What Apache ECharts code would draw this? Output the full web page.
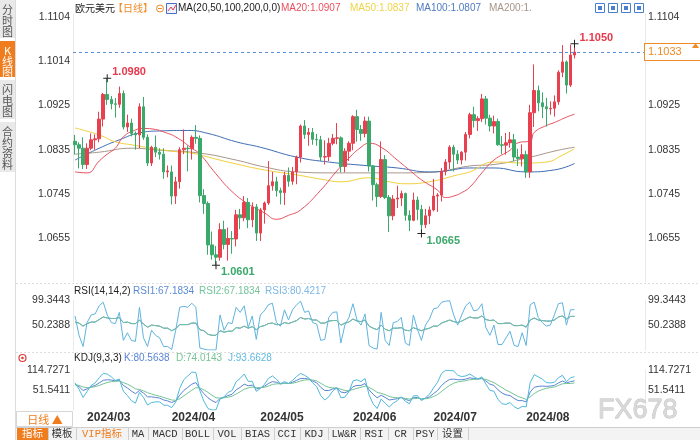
<!DOCTYPE html>
<html><head><meta charset="utf-8">
<script src="https://cdn.jsdelivr.net/npm/echarts@6/dist/echarts.min.js"></script>
<style>html,body{margin:0;padding:0;background:#fff;}#c{width:700px;height:440px;}</style>
</head><body><div id="c"></div>
<script>
// ---------------- data ----------------
const dates = [
'2024/02/27','2024/02/28','2024/02/29',
'2024/03/01','2024/03/04','2024/03/05','2024/03/06','2024/03/07','2024/03/08','2024/03/11','2024/03/12','2024/03/13','2024/03/14','2024/03/15','2024/03/18','2024/03/19','2024/03/20','2024/03/21','2024/03/22','2024/03/25','2024/03/26','2024/03/27','2024/03/28','2024/03/29',
'2024/04/01','2024/04/02','2024/04/03','2024/04/04','2024/04/05','2024/04/08','2024/04/09','2024/04/10','2024/04/11','2024/04/12','2024/04/15','2024/04/16','2024/04/17','2024/04/18','2024/04/19','2024/04/22','2024/04/23','2024/04/24','2024/04/25','2024/04/26','2024/04/29','2024/04/30',
'2024/05/01','2024/05/02','2024/05/03','2024/05/06','2024/05/07','2024/05/08','2024/05/09','2024/05/10','2024/05/13','2024/05/14','2024/05/15','2024/05/16','2024/05/17','2024/05/20','2024/05/21','2024/05/22','2024/05/23','2024/05/24','2024/05/27','2024/05/28','2024/05/29','2024/05/30','2024/05/31',
'2024/06/03','2024/06/04','2024/06/05','2024/06/06','2024/06/07','2024/06/10','2024/06/11','2024/06/12','2024/06/13','2024/06/14','2024/06/17','2024/06/18','2024/06/19','2024/06/20','2024/06/21','2024/06/24','2024/06/25','2024/06/26','2024/06/27','2024/06/28',
'2024/07/01','2024/07/02','2024/07/03','2024/07/04','2024/07/05','2024/07/08','2024/07/09','2024/07/10','2024/07/11','2024/07/12','2024/07/15','2024/07/16','2024/07/17','2024/07/18','2024/07/19','2024/07/22','2024/07/23','2024/07/24','2024/07/25','2024/07/26','2024/07/29','2024/07/30','2024/07/31',
'2024/08/01','2024/08/02','2024/08/05','2024/08/06','2024/08/07','2024/08/08','2024/08/09','2024/08/12','2024/08/13','2024/08/14','2024/08/15','2024/08/16','2024/08/19'];

const opens = [
1.0852,1.0845,1.0838,1.0805,1.0838,1.0855,1.0857,1.0897,1.0947,1.0937,
1.0928,1.0927,1.0949,1.0881,1.0889,1.0868,1.0865,1.0922,1.0860,1.0808,
1.0840,1.0830,1.0826,1.0790,1.0790,1.0741,1.0770,1.0835,1.0838,1.0837,
1.0860,1.0858,1.0742,1.0726,1.0642,1.0622,1.0617,1.0673,1.0643,1.0655,
1.0654,1.0703,1.0697,1.0728,1.0693,1.0719,1.0666,1.0713,1.0727,1.0762,
1.0770,1.0752,1.0748,1.0783,1.0771,1.0790,1.0820,1.0883,1.0866,1.0870,
1.0856,1.0855,1.0820,1.0821,1.0848,1.0858,1.0859,1.0801,1.0832,1.0848,
1.0902,1.0876,1.0868,1.0893,1.0802,1.0764,1.0740,1.0815,1.0738,1.0701,
1.0735,1.0737,1.0746,1.0702,1.0692,1.0733,1.0714,1.0683,1.0701,1.0713,
1.0741,1.0743,1.0791,1.0810,1.0840,1.0826,1.0814,1.0830,1.0866,1.0906,
1.0894,1.0898,1.0938,1.0899,1.0883,1.0892,1.0845,1.0844,1.0849,1.0855,
1.0820,1.0817,1.0825,1.0790,1.0910,1.0955,1.0930,1.0922,1.0918,1.0919,
1.0932,1.0992,1.1013,1.0966,1.1027];
const closes = [
1.0845,1.0838,1.0805,1.0838,1.0855,1.0857,1.0897,1.0947,1.0937,1.0928,
1.0927,1.0949,1.0881,1.0889,1.0868,1.0865,1.0922,1.0860,1.0808,1.0840,
1.0830,1.0826,1.0790,1.0792,1.0741,1.0770,1.0835,1.0838,1.0837,1.0860,
1.0858,1.0742,1.0726,1.0642,1.0622,1.0617,1.0673,1.0643,1.0655,1.0654,
1.0703,1.0697,1.0728,1.0693,1.0719,1.0666,1.0713,1.0727,1.0762,1.0770,
1.0752,1.0748,1.0783,1.0771,1.0790,1.0820,1.0883,1.0866,1.0870,1.0856,
1.0855,1.0820,1.0821,1.0848,1.0858,1.0859,1.0801,1.0832,1.0848,1.0902,
1.0876,1.0868,1.0893,1.0802,1.0764,1.0740,1.0815,1.0738,1.0701,1.0735,
1.0737,1.0746,1.0702,1.0692,1.0733,1.0714,1.0683,1.0701,1.0713,1.0741,
1.0743,1.0791,1.0810,1.0840,1.0826,1.0814,1.0830,1.0866,1.0906,1.0894,
1.0898,1.0938,1.0899,1.0883,1.0892,1.0845,1.0844,1.0849,1.0855,1.0820,
1.0817,1.0825,1.0790,1.0910,1.0955,1.0930,1.0922,1.0918,1.0919,1.0932,
1.0992,1.1013,1.0966,1.1027,1.1033];
const lows = [
1.0825,1.0797,1.0796,1.0796,1.0834,1.0835,1.0850,1.0882,1.0926,1.0917,
1.0900,1.0920,1.0876,1.0871,1.0862,1.0835,1.0838,1.0855,1.0802,1.0802,
1.0820,1.0815,1.0776,1.0779,1.0724,1.0725,1.0756,1.0826,1.0791,1.0815,
1.0847,1.0728,1.0705,1.0622,1.0612,1.0601,1.0610,1.0633,1.0610,1.0624,
1.0639,1.0674,1.0690,1.0676,1.0678,1.0650,1.0650,1.0685,1.0723,1.0752,
1.0740,1.0724,1.0723,1.0760,1.0764,1.0765,1.0809,1.0857,1.0843,1.0845,
1.0843,1.0812,1.0805,1.0812,1.0844,1.0846,1.0789,1.0789,1.0812,1.0834,
1.0851,1.0853,1.0860,1.0791,1.0732,1.0719,1.0737,1.0735,1.0668,1.0692,
1.0717,1.0721,1.0691,1.0670,1.0690,1.0692,1.0665,1.0676,1.0684,1.0710,
1.0709,1.0730,1.0783,1.0796,1.0791,1.0806,1.0805,1.0813,1.0858,1.0880,
1.0873,1.0891,1.0886,1.0872,1.0868,1.0843,1.0826,1.0825,1.0839,1.0812,
1.0802,1.0801,1.0778,1.0778,1.0881,1.0913,1.0899,1.0882,1.0906,1.0902,
1.0926,1.0982,1.0949,1.0962,1.1020];
const highs = [
1.0865,1.0850,1.0860,1.0848,1.0868,1.0866,1.0912,1.0950,1.0980,1.0944,
1.0940,1.0963,1.0955,1.0906,1.0898,1.0872,1.0929,1.0942,1.0866,1.0843,
1.0864,1.0838,1.0838,1.0803,1.0803,1.0780,1.0840,1.0876,1.0843,1.0864,
1.0885,1.0864,1.0755,1.0730,1.0669,1.0640,1.0686,1.0691,1.0677,1.0670,
1.0713,1.0715,1.0741,1.0737,1.0728,1.0725,1.0717,1.0730,1.0812,1.0790,
1.0780,1.0758,1.0790,1.0799,1.0800,1.0823,1.0886,1.0895,1.0879,1.0879,
1.0867,1.0863,1.0854,1.0859,1.0867,1.0889,1.0862,1.0838,1.0852,1.0905,
1.0916,1.0885,1.0902,1.0902,1.0804,1.0768,1.0852,1.0824,1.0743,1.0743,
1.0762,1.0752,1.0748,1.0712,1.0748,1.0740,1.0723,1.0715,1.0720,1.0776,
1.0747,1.0798,1.0816,1.0844,1.0845,1.0834,1.0832,1.0871,1.0910,1.0922,
1.0903,1.0948,1.0944,1.0906,1.0904,1.0898,1.0863,1.0869,1.0871,1.0867,
1.0837,1.0846,1.0833,1.0926,1.1008,1.0965,1.0951,1.0940,1.0933,1.0945,
1.0996,1.1047,1.1016,1.1048,1.1050];

// moving averages: [candle index, value]
const ma20 = [[0,1.0790],[3,1.0788],[6,1.0812],[8,1.0826],[10,1.0838],[12,1.0861],[15,1.0875],[17,1.0878],[20,1.0876],[22,1.0871],[25,1.0861],[29,1.0838],[31,1.0826],[35,1.0786],[39,1.0750],[43,1.0725],[47,1.0707],[50,1.0694],[53,1.0702],[56,1.0713],[61,1.0753],[65,1.0792],[68,1.0818],[71,1.0840],[73,1.0848],[76,1.0840],[80,1.0814],[83,1.0794],[86,1.0774],[90,1.0753],[92,1.0738],[94,1.0741],[96,1.0748],[98,1.0759],[101,1.0788],[104,1.0814],[108,1.0834],[110,1.0849],[113,1.0853],[114,1.0870],[117,1.0884],[119,1.0890],[122,1.0901],[124,1.0907]];
const ma50 = [[0,1.0879],[6,1.0865],[10,1.0851],[14,1.0845],[19,1.0838],[24,1.0832],[29,1.0828],[34,1.0818],[39,1.0808],[47,1.0794],[55,1.0784],[62,1.0774],[66,1.0770],[73,1.0778],[78,1.0770],[82,1.0766],[88,1.0770],[95,1.0784],[98,1.0790],[104,1.0810],[112,1.0808],[117,1.0810],[121,1.0824],[124,1.0837]];
const ma100 = [[0,1.0814],[6,1.0838],[11,1.0855],[16,1.0869],[21,1.0873],[28,1.0874],[33,1.0868],[40,1.0851],[46,1.0840],[55,1.0820],[63,1.0810],[72,1.0803],[80,1.0798],[88,1.0790],[92,1.0792],[98,1.0798],[104,1.0798],[112,1.0790],[119,1.0794],[124,1.0807]];
const ma200 = [[0,1.0826],[6,1.0830],[14,1.0838],[21,1.0834],[31,1.0828],[40,1.0814],[47,1.0800],[55,1.0790],[64,1.0788],[72,1.0788],[80,1.0788],[88,1.0789],[98,1.0802],[104,1.0805],[112,1.0818],[120,1.0834],[124,1.0840]];

// RSI(14) (RSI1 = RSI2) and RSI(2) (RSI3)
const rsi14 = [56,54,48,53,56,56,61,66,64,63,63,65,55,56,53,53,60,52,46,50,49,48,44,44,39,43,51,51,51,54,54,41,39,32,30,30,39,36,38,38,45,44,48,44,47,41,47,49,53,54,51,51,55,53,56,59,65,62,63,60,60,54,54,58,59,59,50,54,56,62,58,57,60,48,44,41,50,42,39,44,44,45,40,39,45,42,39,42,44,48,48,54,57,60,57,55,58,62,66,64,64,68,61,59,60,53,53,54,54,49,49,50,46,60,64,60,59,58,58,60,66,68,62,67,67.1834];
const rsi2 = [68,30,8,55,70,72,88,95,70,55,53,75,20,35,20,18,85,25,8,40,30,25,8,8,2,40,85,87,85,93,85,5,3,1.2,1.2,1.2,70,40,55,53,85,75,88,45,68,22,70,78,90,93,55,48,80,60,80,90,97,75,78,55,52,20,22,65,75,76,15,50,65,92,60,50,72,10,5,3,75,20,10,55,57,65,15,10,70,42,20,50,62,82,84,95,97,98,70,50,70,88,95,78,80,92,45,30,50,12,12,25,38,10,8,35,10,90,95,65,55,48,50,70,92,94,50,80,80.4217];

// KDJ(9,3,3)
const kLine = [70,62,50,55,62,66,74,82,84,83,80,82,66,58,48,40,50,42,30,30,28,26,20,17,12,17,35,50,60,70,75,55,40,27,18,12,25,28,34,38,52,60,70,65,67,55,58,63,72,78,76,71,74,72,76,82,88,88,86,80,74,60,50,50,55,58,45,43,48,62,66,66,72,52,38,27,35,28,20,22,24,28,22,18,27,28,22,25,30,40,50,66,77,85,86,84,84,86,90,88,86,89,80,70,66,52,42,36,34,25,18,18,14,45,60,63,64,63,64,66,74,80,74,78,80.5638];
const dLine = [68,66,61,59,60,62,66,71,75,78,79,80,75,70,63,55,53,49,43,39,35,32,28,24,20,19,24,33,42,51,59,58,52,44,35,27,26,27,29,32,39,46,54,58,61,59,59,60,64,69,71,71,72,72,73,76,80,83,84,83,80,73,65,60,58,58,54,50,49,53,57,60,64,60,53,44,41,37,31,28,27,27,25,23,24,25,24,24,26,31,37,47,57,66,73,77,79,81,84,85,86,87,85,80,75,67,59,51,45,38,31,27,22,30,40,48,53,57,59,61,66,71,72,72,74.0143];
const jLine = [74,54,28,47,66,74,90,104,102,93,82,86,48,34,18,10,44,28,4,12,14,14,4,3,-4,13,57,84,96,108,107,49,16,-7,-11.6,-11,23,30,44,50,78,88,102,79,79,47,56,69,88,96,86,71,78,72,82,94,104,98,90,74,62,34,20,30,49,58,27,29,46,80,84,78,88,36,8,-7,23,10,-2,10,18,30,16,8,33,34,18,27,38,58,76,104,114,113,112,98,94,96,102,94,86,93,70,50,48,22,8,6,12,-1,-8,0,-2,75,100,93,86,75,74,76,90,98,78,90,93.6628];

const priceTicks = [1.0655,1.0745,1.0835,1.0925,1.1014,1.1104];
const rsiTicks = [50.2388,99.3443];
const kdjTicks = [51.5411,114.7271];
const lastPrice = 1.1033;
const extremes = [{i:8,kind:'high'},{i:35,kind:'low'},{i:86,kind:'low'},{i:124,kind:'high'}];

// ---------------- chart ----------------
const F = "'Liberation Sans','Noto Sans CJK SC',sans-serif";
const CJK = "'Noto Sans CJK SC','Liberation Sans',sans-serif";
const SLOTS = 142;
const UP = '#e8404f', DOWN = '#3aa96a';
const C20 = '#e8505f', C50 = '#f0d03a', C100 = '#3f6db3', C200 = '#a8968a';
const CR1 = '#5b8bd6', CR2 = '#72c49a', CR3 = '#5fb3df';
const CK = '#5a84d6', CD = '#74c495', CJ = '#4fb8dc';

const chart = echarts.init(document.getElementById('c'), null, {renderer:'canvas', width:700, height:440});
const candles = dates.map((d,i)=>[opens[i],closes[i],lows[i],highs[i]]);
// right price labels hidden behind the last-price tag
const rightPriceTicks = priceTicks.filter(v => Math.abs(v - lastPrice) > 0.0025);

function xAx(gi, showLabel){
  return {type:'category', gridIndex:gi, data:dates, max:SLOTS-1, boundaryGap:true,
    axisLine:{show:false}, axisTick:{show:false}, splitLine:{show:false},
    axisLabel: showLabel ? {
      show:true, align:'left', margin:2, color:'#333', fontSize:12, fontWeight:'bold', fontFamily:F,
      interval:(idx,val)=> !!val && idx>0 && dates[idx-1] && dates[idx-1].slice(0,7)!==val.slice(0,7),
      formatter:(val)=> val ? val.slice(0,7) : ''
    } : {show:false}};
}
function yAx(gi, pos, min, max, ticks){
  return {type:'value', gridIndex:gi, position:pos, min:min, max:max, scale:true,
    axisLine:{show:true, lineStyle:{color:'#e9e9e9'}},
    axisTick:{show:false, customValues:ticks},
    splitLine:{show:false},
    axisLabel:{show:true, customValues:ticks, formatter:(v)=>v.toFixed(4), color:'#333', fontSize:10.5, fontFamily:F, margin:3}};
}
function line(name, data, color, xi, yi, smooth){
  return {name:name, type:'line', data:data, xAxisIndex:xi, yAxisIndex:yi, showSymbol:false, symbol:'none',
    smooth:smooth, lineStyle:{width:1, color:color}, itemStyle:{color:color}, silent:true, z:3};
}

const markPts = extremes.map(e=>{
  const v = e.kind==='high' ? highs[e.i] : lows[e.i];
  return {coord:[e.i, v], value:v,
    label:{show:true, position:'right', distance:1, offset:[0, e.kind==='high'?-6:7],
      color: e.kind==='high'? '#e8384c' : '#3aa86a', fontWeight:'bold', fontSize:11, fontFamily:F,
      formatter:(p)=>p.value.toFixed(4)}};
});

const g = [];
// sidebar tabs
const tabs = [{t:'分\n时\n图',y:0,h:38,on:false},{t:'K\n线\n图',y:41,h:36,on:true},{t:'闪\n电\n图',y:80,h:39,on:false},{t:'合\n约\n资\n料',y:122,h:50,on:false}];
tabs.forEach(tb=>{
  g.push({type:'rect', shape:{x:0,y:tb.y,width:15,height:tb.h}, style:{fill: tb.on?'#f07d1d':'#e9e9e9'}});
  g.push({type:'text', x:7.5, y:tb.y+4, style:{text:tb.t, fill: tb.on?'#fff':'#555', font:"11px "+CJK, textAlign:'center', textVerticalAlign:'top', lineHeight:11}});
});
g.push({type:'line', shape:{x1:15.5,y1:0,x2:15.5,y2:440}, style:{stroke:'#dcdcdc', lineWidth:1}});
// panel separators
g.push({type:'line', shape:{x1:16,y1:283.5,x2:700,y2:283.5}, style:{stroke:'#dedede', lineDash:[2,2], lineWidth:1}});
g.push({type:'line', shape:{x1:16,y1:352.5,x2:700,y2:352.5}, style:{stroke:'#dedede', lineDash:[2,2], lineWidth:1}});
// title row
const lastOf = a => a[a.length-1][1].toFixed(4);
g.push({type:'text', x:75, y:8, style:{text:'欧元美元', fill:'#222', font:"10px "+CJK, textVerticalAlign:'middle'}});
g.push({type:'text', x:113, y:8, style:{text:'【日线】', fill:'#f08a24', font:"10px "+CJK, textVerticalAlign:'middle'}});
g.push({type:'circle', shape:{cx:160,cy:8.5,r:3.5}, style:{fill:'#fff', stroke:'#f08a24', lineWidth:1}});
g.push({type:'line', shape:{x1:158,y1:8.5,x2:162,y2:8.5}, style:{stroke:'#f08a24', lineWidth:1}});
g.push({type:'rect', shape:{x:166.5,y:3.5,width:10,height:10}, style:{fill:'#eef2ff', stroke:'#4a6fc0', lineWidth:1}});
g.push({type:'polyline', shape:{points:[[168,11],[171,7],[173,10],[176,5]]}, style:{stroke:'#e04050', lineWidth:1, fill:null}});
g.push({type:'text', x:178, y:8, style:{text:'MA(20,50,100,200,0,0)', fill:'#222', font:"10px "+F, textVerticalAlign:'middle'}});
g.push({type:'text', x:281, y:8, style:{text:'MA20:'+lastOf(ma20), fill:C20, font:"10px "+F, textVerticalAlign:'middle'}});
g.push({type:'text', x:350, y:8, style:{text:'MA50:'+lastOf(ma50), fill:'#efd44a', font:"10px "+F, textVerticalAlign:'middle'}});
g.push({type:'text', x:416, y:8, style:{text:'MA100:'+lastOf(ma100), fill:'#4f7cc0', font:"10px "+F, textVerticalAlign:'middle'}});
g.push({type:'text', x:489, y:8, style:{text:'MA200:1.', fill:'#a89488', font:"10px "+F, textVerticalAlign:'middle'}});
[595,608,621,634].forEach((x,k)=>{
  g.push({type:'rect', shape:{x:x+0.5,y:3.5,width:9,height:9}, style:{fill:'#fff', stroke:'#4a7fd0', lineWidth:1}});
  g.push({type:'rect', shape:{x:x+3,y:6,width:4,height:4}, style:{fill:'#4a7fd0'}});
});
// price tag icon
g.push({type:'polygon', z:100, shape:{points:[[692,48],[695.5,43],[699,48]]}, style:{fill:'#f08a24'}});
// RSI title
g.push({type:'text', x:74, y:291, style:{text:'RSI(14,14,2)', fill:'#222', font:"10px "+F, textVerticalAlign:'middle'}});
g.push({type:'text', x:133, y:291, style:{text:'RSI1:'+rsi14[rsi14.length-1].toFixed(4), fill:CR1, font:"10px "+F, textVerticalAlign:'middle'}});
g.push({type:'text', x:199, y:291, style:{text:'RSI2:'+rsi14[rsi14.length-1].toFixed(4), fill:CR2, font:"10px "+F, textVerticalAlign:'middle'}});
g.push({type:'text', x:265, y:291, style:{text:'RSI3:'+rsi2[rsi2.length-1].toFixed(4), fill:'#7db7e6', font:"10px "+F, textVerticalAlign:'middle'}});
// KDJ title
g.push({type:'circle', shape:{cx:22.5,cy:358,r:3.5}, style:{fill:'#fff', stroke:'#e03a3a', lineWidth:1.2}});
g.push({type:'circle', shape:{cx:22.5,cy:358,r:1.3}, style:{fill:'#e03a3a'}});
g.push({type:'text', x:74, y:358, style:{text:'KDJ(9,3,3)', fill:'#222', font:"10px "+F, textVerticalAlign:'middle'}});
g.push({type:'text', x:124, y:358, style:{text:'K:'+kLine[kLine.length-1].toFixed(4), fill:CK, font:"10px "+F, textVerticalAlign:'middle'}});
g.push({type:'text', x:176, y:358, style:{text:'D:'+dLine[dLine.length-1].toFixed(4), fill:CD, font:"10px "+F, textVerticalAlign:'middle'}});
g.push({type:'text', x:228, y:358, style:{text:'J:'+jLine[jLine.length-1].toFixed(4), fill:'#5fb9e0', font:"10px "+F, textVerticalAlign:'middle'}});
// 日线 box
g.push({type:'rect', shape:{x:16.5,y:411.5,width:56,height:15}, style:{fill:'#fff', stroke:'#d6d6d6', lineWidth:1}});
g.push({type:'text', x:45, y:419.5, style:{text:'日线 ▲', fill:'#f07d1d', font:"11px "+CJK, textAlign:'center', textVerticalAlign:'middle'}});
// bottom toolbar
g.push({type:'rect', shape:{x:16,y:427,width:684,height:13}, style:{fill:'#f3f3f3'}});
g.push({type:'line', shape:{x1:16,y1:427.5,x2:700,y2:427.5}, style:{stroke:'#cfcfcf', lineWidth:1}});
const cells = [['指标',17,48],['模板',48,76],['VIP指标',76,128],['MA',128,148],['MACD',148,182],['BOLL',182,213],['VOL',213,241],['BIAS',241,274],['CCI',274,300],['KDJ',300,328],['LW&R',328,360],['RSI',360,388],['CR',388,413],['PSY',413,437],['设置',437,468]];
cells.forEach((c,k)=>{
  if(k===0) g.push({type:'rect', shape:{x:c[1],y:428,width:c[2]-c[1],height:12}, style:{fill:'#f07d1d'}});
  g.push({type:'line', shape:{x1:c[2]+0.5,y1:428,x2:c[2]+0.5,y2:440}, style:{stroke:'#cfcfcf', lineWidth:1}});
  g.push({type:'text', x:(c[1]+c[2])/2, y:434.5, style:{text:c[0], fill: k===0?'#fff':(k===2?'#f07d1d':'#333'), font:"10.5px 'Liberation Mono','Noto Sans CJK SC',monospace", textAlign:'center', textVerticalAlign:'middle'}});
});
// watermark
g.push({type:'text', x:598, y:411, z:100, style:{text:'FX678', fill:'#d9d9d9', stroke:'#bcbcbc', lineWidth:0.8, font:"27px "+F, textVerticalAlign:'middle'}});

const rY = yAx(0,'right',1.05668,1.11101,rightPriceTicks);
const option = {
  animation:false,
  backgroundColor:'#fff',
  grid:[
    {left:73, top:14, width:572, height:268},
    {left:73, top:300, width:572, height:50},
    {left:73, top:370, width:572, height:40}
  ],
  xAxis:[xAx(0,false), xAx(1,false), xAx(2,true)],
  yAxis:[
    yAx(0,'left',1.05668,1.11101,priceTicks), rY,
    yAx(1,'left',1.1333,99.3443,rsiTicks), yAx(1,'right',1.1333,99.3443,rsiTicks),
    yAx(2,'left',-11.6449,114.7271,kdjTicks), yAx(2,'right',-11.6449,114.7271,kdjTicks)
  ],
  series:[
    line('MA200', ma200, C200, 0, 0, true),
    line('MA100', ma100, C100, 0, 0, true),
    line('MA50', ma50, C50, 0, 0, true),
    line('MA20', ma20, C20, 0, 0, true),
    {name:'EURUSD', type:'candlestick', data:candles, xAxisIndex:0, yAxisIndex:0, barWidth:3, z:4,
      itemStyle:{color:UP, color0:DOWN, borderColor:UP, borderColor0:DOWN, borderWidth:1},
      markPoint:{symbol:'path://M0,3.5h8v1h-8z M3.5,0h1v8h-1z', symbolSize:[8,8], itemStyle:{color:'#222'}, data:markPts, silent:true},
      markLine:{symbol:'none', silent:true, precision:4, data:[{yAxis:lastPrice}],
        lineStyle:{color:'#5b8fe0', type:[3,3], width:1},
        label:{show:true, position:'end', distance:0, formatter:(p)=>Number(p.value).toFixed(4), color:'#f08a24', fontSize:11, fontFamily:F,
          backgroundColor:'#fff', borderColor:'#f08a24', borderWidth:1, padding:[3,20,2,3]}}
    },
    line('RSI1', rsi14, CR1, 1, 2, false),
    line('RSI2', rsi14, CR2, 1, 2, false),
    line('RSI3', rsi2, CR3, 1, 2, false),
    line('K', kLine, CK, 2, 4, false),
    line('D', dLine, CD, 2, 4, false),
    line('J', jLine, CJ, 2, 4, false)
  ],
  graphic:g
};
chart.setOption(option);
</script></body></html>
